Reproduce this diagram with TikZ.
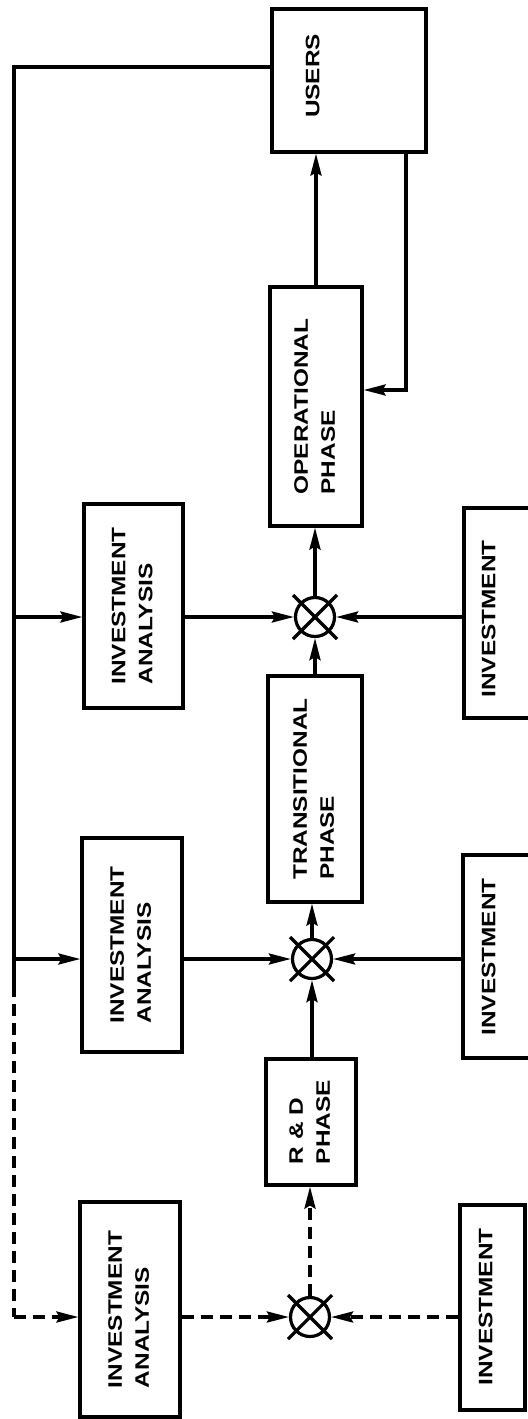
\documentclass[tikz,border=0pt]{standalone}
\usepackage{fontspec}
\setmainfont{Liberation Sans}[FakeStretch=1.25]
\usetikzlibrary{arrows.meta}
\newcommand\rottext[1]{\rotatebox{90}{\begin{tabular}{@{}l@{}}#1\end{tabular}}}
\begin{document}
\begin{tikzpicture}[x=1bp,y=-1bp,
  ln/.style={line width=3.2bp},
  arr/.style={ln,-{Stealth[length=22bp,width=11bp,inset=3bp]}},
  dsh/.style={dash pattern=on 12bp off 7bp},
  box/.style={draw,line width=3.2bp,inner sep=0pt,font=\bfseries\fontsize{19.5bp}{27bp}\selectfont},
  lbl/.style={inner sep=0pt,font=\bfseries\fontsize{19.5bp}{27bp}\selectfont},
  mix/.style={draw,circle,line width=3.2bp,minimum size=39bp,inner sep=0pt}
]
\clip (0,0) rectangle (528,1419);
\fill[white] (0,0) rectangle (528,1419);

% main chain boxes
\node[box,minimum width=154bp,minimum height=143bp] (users) at (349,80.5) {};
\node[lbl] (userst) at (314,76) {\rottext{USERS}};
\node[box,minimum width=92bp,minimum height=239bp] (op) at (316,406.5) {\rottext{OPERATIONAL\\PHASE}};
\node[box,minimum width=94bp,minimum height=226bp] (tr) at (315,789) {\rottext{TRANSITIONAL\\PHASE}};
\node[box,minimum width=90bp,minimum height=126bp] (rd) at (311,1122) {\rottext{R \& D\\PHASE}};

% investment analysis boxes
\node[box,minimum width=99bp,minimum height=204bp] (ia2) at (133.5,606) {\rottext{INVESTMENT\\ANALYSIS}};
\node[box,minimum width=100bp,minimum height=214bp] (ia1) at (132,945) {\rottext{INVESTMENT\\ANALYSIS}};
\node[box,minimum width=100bp,minimum height=215bp] (ia0) at (130,1309.5) {\rottext{INVESTMENT\\ANALYSIS}};

% investment boxes
\node[box,minimum width=96bp,minimum height=210bp] (in2) at (512,613) {};
\node[lbl] (in2t) at (490,619) {\rottext{INVESTMENT}};
\node[box,minimum width=96bp,minimum height=203bp] (in1) at (511,956.5) {};
\node[lbl] (in1t) at (490,957) {\rottext{INVESTMENT}};
\node[box,minimum width=65bp,minimum height=205bp] (in0) at (492.5,1307.5) {};
\node[lbl] (in0t) at (487,1307) {\rottext{INVESTMENT}};

% multipliers
\node[mix] (c2) at (315,617) {};
\node[mix] (c1) at (312,959) {};
\node[mix] (c0) at (310,1317) {};
\foreach \c in {c0,c1,c2}{
  \draw[ln] ([shift={(-22,-22)}]\c.center) -- ([shift={(22,22)}]\c.center);
  \draw[ln] ([shift={(-22,22)}]\c.center) -- ([shift={(22,-22)}]\c.center);
}

% feedback trunk on the left
\coordinate (tl) at (14,67);
\coordinate (sw) at (14,985);
\coordinate (b2) at (14,617);
\coordinate (b1) at (14,959);
\coordinate (b0) at (14,1317);
\draw[ln] (users.west |- tl) -- (tl) -- (sw);
\draw[ln,dsh] (sw) -- (b0);
\draw[arr] (b2) -- (b2 -| ia2.west);
\draw[arr] (b1) -- (b1 -| ia1.west);
\draw[arr,dsh] (b0) -- (b0 -| ia0.west);

% into the multipliers
\draw[arr] (c2 -| ia2.east) -- (c2.west);
\draw[arr] (c2 -| in2.west) -- (c2.east);
\draw[arr] (tr.north) -- (c2.south);
\draw[arr] (c2.north) -- (c2.north |- op.south);

\draw[arr] (c1 -| ia1.east) -- (c1.west);
\draw[arr] (c1 -| in1.west) -- (c1.east);
\draw[arr] (c1.south |- rd.north) -- (c1.south);
\draw[arr] (c1.north) -- (c1.north |- tr.south);

\draw[arr,dsh] (c0 -| ia0.east) -- (c0.west);
\draw[arr,dsh] (c0 -| in0.west) -- (c0.east);
\draw[arr,dsh] (c0.north) -- (c0.north |- rd.south);

% operational to users and back
\draw[arr] (op.north) -- (op.north |- users.south);
\coordinate (fb) at (406,390);
\draw[arr] (users.south -| fb) -- (fb) -- (fb -| op.east);
\end{tikzpicture}
\end{document}
